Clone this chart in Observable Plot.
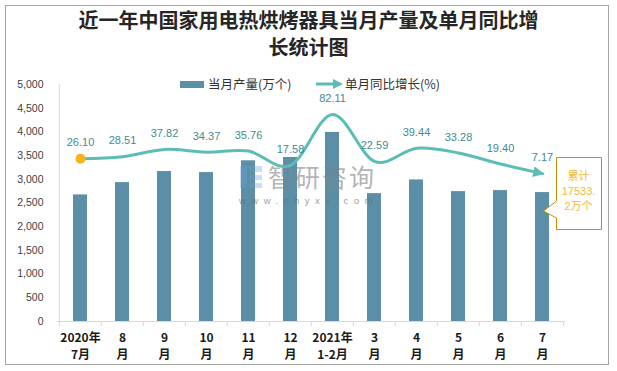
<!DOCTYPE html>
<html>
<head>
<meta charset="utf-8">
<script src="https://cdn.jsdelivr.net/npm/d3@7"></script>
<script src="https://cdn.jsdelivr.net/npm/@observablehq/plot@0.6"></script>
<style>
  html, body { margin: 0; padding: 0; background: #fff; }
  #wrap { position: relative; width: 617px; height: 371px; overflow: hidden; font-family: "Noto Sans CJK SC", "Liberation Sans", sans-serif; }
  #wrap > * { position: absolute; }
  #border { left: 5px; top: 5px; width: 604px; height: 360px; border: 1px solid #a6a6a6; box-sizing: border-box; }
  #title { left: 0; top: 6px; width: 617px; text-align: center; font-size: 20px; line-height: 27px; font-weight: bold; color: #262626; }
  .leg { font-size: 12.5px; color: #333; line-height: 16px; white-space: nowrap; }
  #callText { left: 556px; top: 169px; width: 45px; text-align: center; font-size: 11px; line-height: 15px; color: #f2b93b; font-family: "Liberation Sans", "Noto Sans CJK SC", sans-serif; }
  #wm1 { left: 268px; top: 163px; font-size: 25px; line-height: 26px; color: rgba(130,130,130,0.6); letter-spacing: 2px; }
  #wm2 { left: 239px; top: 196px; font-size: 9.5px; line-height: 10px; color: rgba(110,110,110,0.7); letter-spacing: 5.5px; font-family: "Liberation Sans", sans-serif; }
</style>
</head>
<body>
<div id="wrap">
  <div id="border"></div>
  <div id="chart" style="left:0;top:0"></div>
  <div id="title"></div>
  <div id="legend" style="left:0;top:0;width:617px;height:100px"></div>
  <svg id="callBox" style="left:0;top:0" width="617" height="371"></svg>
  <div id="callText"></div>
  <svg id="wmLogo" style="left:0;top:0" width="617" height="371"></svg>
  <div id="wm1"></div>
  <div id="wm2"></div>
</div>
<script>
// ---- data ----
const titleLines = ["近一年中国家用电热烘烤器具当月产量及单月同比增", "长统计图"];
const months = ["2020年\n7月", "8\n月", "9\n月", "10\n月", "11\n月", "12\n月", "2021年\n1-2月", "3\n月", "4\n月", "5\n月", "6\n月", "7\n月"];
const output = [2670, 2930, 3163, 3142, 3390, 3460, 3990, 2698, 2987, 2740, 2762, 2720];   // 当月产量(万个)
const growth = [26.10, 28.51, 37.82, 34.37, 35.76, 17.58, 82.11, 22.59, 39.44, 33.28, 19.40, 7.17]; // 单月同比增长(%)
const outputDomain = [0, 5000];
const growthDomain = [-180, 120]; // hidden secondary axis
const seriesNames = ["当月产量(万个)", "单月同比增长(%)"];
const calloutLines = ["累计", "17533.", "2万个"];
const watermark = ["智研咨询", "www.chyxx.com"];

// ---- styles ----
const barColor = "#5b8fa7";
const lineColor = "#5cbdb5";
const labelColor = "#3d8c91";
const dotColor = "#f5b31f";
const axisColor = "#d9d9d9";

const rows = months.map((m, i) => ({month: m, output: output[i], growth: growth[i]}));
const toLeft = g => (g - growthDomain[0]) / (growthDomain[1] - growthDomain[0]) * (outputDomain[1] - outputDomain[0]) + outputDomain[0];

const W = 617, H = 371, mt = 84, mb = 50, ml = 57, mr = 52;
const bw = (W - ml - mr) / months.length;
const ph = H - mt - mb;

const chart = Plot.plot({
  width: W, height: H,
  marginTop: mt, marginBottom: mb, marginLeft: ml, marginRight: mr,
  style: {fontFamily: "Liberation Sans, sans-serif", fontSize: "10.5px", color: "#404040", background: "transparent"},
  x: {type: "band", domain: months, padding: 0, axis: null},
  y: {domain: outputDomain, ticks: 10, tickFormat: d3.format(",d"), tickSize: 0, tickPadding: 14, label: null},
  marks: [
    Plot.ruleX([months[0]], {dx: -bw / 2, stroke: axisColor}),
    Plot.ruleX(months, {dx: -bw / 2, stroke: axisColor, insetTop: ph, insetBottom: -5}),
    Plot.ruleX([months[months.length - 1]], {dx: bw / 2, stroke: axisColor, insetTop: ph, insetBottom: -5}),
    Plot.barY(rows, {x: "month", y: "output", fill: barColor, insetLeft: 14, insetRight: 14}),
    Plot.ruleY([0], {stroke: axisColor}),
    Plot.line(rows, {x: "month", y: d => toLeft(d.growth), stroke: lineColor, strokeWidth: 3, curve: "cardinal", tension: 0}),
    Plot.dot([rows[0]], {x: "month", y: d => toLeft(d.growth), r: 5, fill: dotColor}),
    Plot.text(rows, {x: "month", y: d => toLeft(d.growth), text: d => d.growth.toFixed(2), dy: -16, fill: labelColor, fontSize: 11}),
    Plot.text(rows, {x: "month", frameAnchor: "bottom", text: "month", dy: 23.5, lineAnchor: "middle", lineHeight: 1.42, fontSize: 12, fontWeight: "bold", fill: "#1a1a1a", fontFamily: "Noto Sans CJK SC, sans-serif"})
  ]
});
document.getElementById("chart").appendChild(chart);

// arrowhead at the end of the line
const svg = d3.select(chart);
const defs = svg.append("defs");
defs.append("marker").attr("id", "arrowEnd").attr("viewBox", "0 0 10 10")
  .attr("refX", 8.5).attr("refY", 5).attr("markerWidth", 11).attr("markerHeight", 11)
  .attr("markerUnits", "userSpaceOnUse").attr("orient", "auto")
  .append("path").attr("d", "M0,0L10,5L0,10Z").attr("fill", lineColor);
svg.selectAll('g[aria-label="line"] path').attr("marker-end", "url(#arrowEnd)");

// title
document.getElementById("title").innerHTML = titleLines.join("<br>");

// legend
const leg = d3.select("#legend");
leg.append("div").style("position", "absolute").style("left", "180px").style("top", "81px")
  .style("width", "24px").style("height", "7px").style("background", barColor);
leg.append("div").attr("class", "leg").style("position", "absolute").style("left", "208px").style("top", "76px").text(seriesNames[0]);
const la = leg.append("svg").style("position", "absolute").style("left", "314px").style("top", "77px").attr("width", 32).attr("height", 14);
la.append("line").attr("x1", 2).attr("x2", 21).attr("y1", 7).attr("y2", 7).attr("stroke", lineColor).attr("stroke-width", 3);
la.append("path").attr("d", "M19,2L29,7L19,12Z").attr("fill", lineColor);
leg.append("div").attr("class", "leg").style("position", "absolute").style("left", "345px").style("top", "76px").text(seriesNames[1]);

// callout
const cb = d3.select("#callBox");
cb.append("path").attr("d", "M556.5,157.5H601.5V229.5H556.5V218L543.5,211L556.5,201Z")
  .attr("fill", "#fff").attr("stroke", "#bf9000").attr("stroke-width", 1);
document.getElementById("callText").innerHTML = calloutLines.join("<br>");

// watermark
const wl = d3.select("#wmLogo");
wl.append("rect").attr("x", 240).attr("y", 166).attr("width", 7).attr("height", 22).attr("fill", "rgba(110,160,215,0.35)");
wl.append("rect").attr("x", 249).attr("y", 166).attr("width", 13).attr("height", 6).attr("fill", "rgba(110,160,215,0.35)");
wl.append("rect").attr("x", 249).attr("y", 175).attr("width", 13).attr("height", 5).attr("fill", "rgba(110,160,215,0.35)");
wl.append("rect").attr("x", 249).attr("y", 183).attr("width", 13).attr("height", 5).attr("fill", "rgba(110,160,215,0.35)");
document.getElementById("wm1").textContent = watermark[0];
document.getElementById("wm2").textContent = watermark[1];
</script>
</body>
</html>
